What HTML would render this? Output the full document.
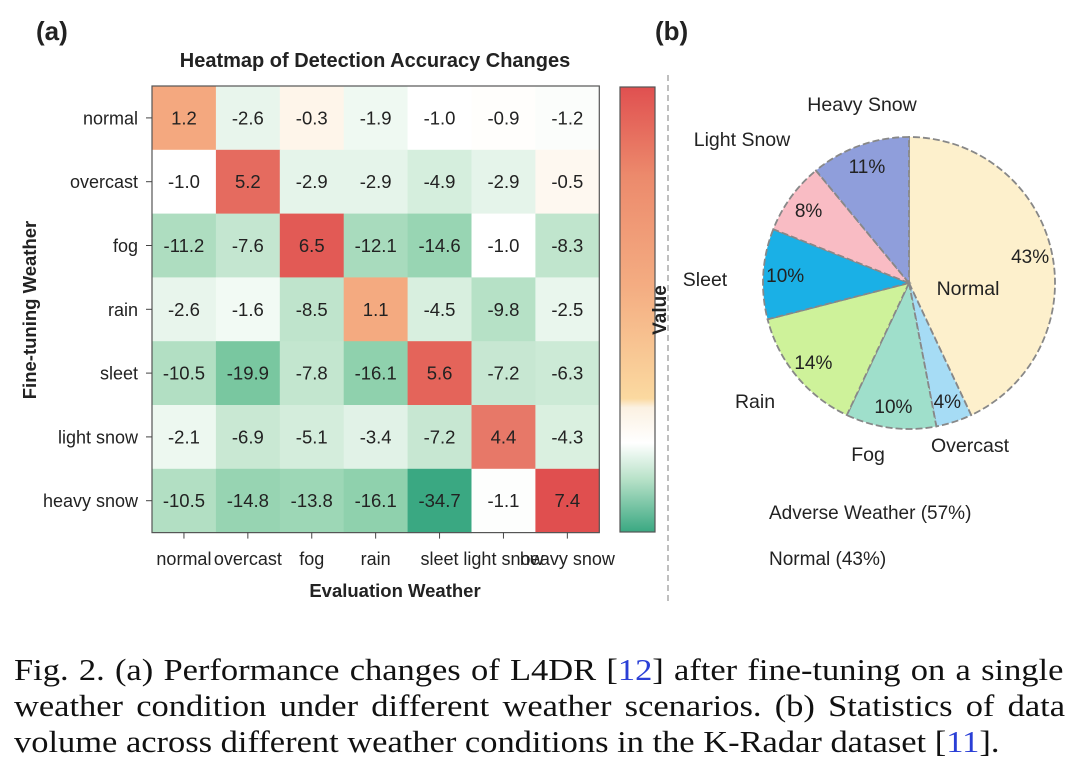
<!DOCTYPE html>
<html><head><meta charset="utf-8">
<style>
html,body{margin:0;padding:0;background:#fff;}
svg{display:block;}
.s{font-family:"Liberation Sans",Arial,sans-serif;fill:#222;}
.serif{font-family:"Liberation Serif","Times New Roman",serif;fill:#111;}
</style></head>
<body>
<svg id="fig" width="1080" height="776" viewBox="0 0 1080 776" xmlns="http://www.w3.org/2000/svg">
  <text class="s" x="36" y="40" font-size="26" font-weight="bold" fill="#111">(a)</text>
  <text class="s" x="655" y="40" font-size="26" font-weight="bold" fill="#111">(b)</text>
  <text class="s" x="375" y="67" font-size="20" font-weight="bold" text-anchor="middle">Heatmap of Detection Accuracy Changes</text>
  <g id="heat"></g>
  <defs>
    <linearGradient id="cbg" x1="0" y1="1" x2="0" y2="0">
      <stop offset="0" stop-color="#3aa882"/>
      <stop offset="0.12" stop-color="#b9e2c9"/>
      <stop offset="0.2" stop-color="#ffffff"/>
      <stop offset="0.28" stop-color="#fbf1e2"/>
      <stop offset="0.3" stop-color="#fbd9a0"/>
      <stop offset="0.55" stop-color="#f4ad82"/>
      <stop offset="0.8" stop-color="#ec8a6c"/>
      <stop offset="1" stop-color="#e05050"/>
    </linearGradient>
  </defs>
  <rect x="620" y="87" width="35" height="445" fill="url(#cbg)" stroke="#555" stroke-width="1.2"/>
  <text class="s" transform="translate(666,310) rotate(-90)" font-size="19" font-weight="bold" text-anchor="middle">Value</text>
  <text class="s" transform="translate(36,310) rotate(-90)" font-size="18.5" font-weight="bold" text-anchor="middle">Fine-tuning Weather</text>
  <text class="s" x="395" y="597" font-size="18.5" font-weight="bold" text-anchor="middle">Evaluation Weather</text>
  <line x1="668" y1="75" x2="668" y2="602" stroke="#aaa" stroke-width="1.5" stroke-dasharray="6,4"/>
  <g id="pie"></g>
  <text class="s" x="769" y="519" font-size="19">Adverse Weather (57%)</text>
  <text class="s" x="769" y="565" font-size="19">Normal (43%)</text>
  <g id="cap">
    <text id="cap1" class="serif jus" x="0" y="680" font-size="31">Fig. 2.  (a) Performance changes of L4DR [<tspan fill="#2a3fd6">12</tspan>] after fine-tuning on a single</text>
    <text class="serif jus" x="0" y="716" font-size="31">weather condition under different weather scenarios. (b) Statistics of data</text>
    <text id="cap3" class="serif" x="0" y="752" font-size="31">volume across different weather conditions in the K-Radar dataset [<tspan fill="#2a3fd6">11</tspan>].</text>
  </g>
</svg>
<script>
const rowLabels = ["normal","overcast","fog","rain","sleet","light snow","heavy snow"];
const colLabels = ["normal","overcast","fog","rain","sleet","light snow","heavy snow"];
const heatValues = [
  [1.2,-2.6,-0.3,-1.9,-1.0,-0.9,-1.2],
  [-1.0,5.2,-2.9,-2.9,-4.9,-2.9,-0.5],
  [-11.2,-7.6,6.5,-12.1,-14.6,-1.0,-8.3],
  [-2.6,-1.6,-8.5,1.1,-4.5,-9.8,-2.5],
  [-10.5,-19.9,-7.8,-16.1,5.6,-7.2,-6.3],
  [-2.1,-6.9,-5.1,-3.4,-7.2,4.4,-4.3],
  [-10.5,-14.8,-13.8,-16.1,-34.7,-1.1,7.4]
];
const pieLabels = ["Normal","Overcast","Fog","Rain","Sleet","Light Snow","Heavy Snow"];
const pieValues = [43,4,10,14,10,8,11];
const pieColors = ["#fdf0cc","#a6dcf5","#9fdfcb","#cef29a","#1ab0e6","#f9bcc4","#8f9edb"];

const NS="http://www.w3.org/2000/svg";
function mk(tag,attrs,parent){const e=document.createElementNS(NS,tag);for(const k in attrs)e.setAttribute(k,attrs[k]);parent.appendChild(e);return e;}

const cStops=[[-34.7,[58,168,130]],[-19.9,[121,199,160]],[-16.1,[143,209,173]],[-14.6,[152,213,179]],[-10.5,[178,223,195]],[-7,[200,232,211]],[-4.5,[216,239,223]],[-2.6,[232,245,236]],[-1.6,[242,250,244]],[-1.0,[255,255,255]],[-0.3,[254,245,234]],[1.1,[244,170,128]],[4.4,[231,120,104]],[5.6,[228,100,90]],[7.4,[224,79,79]]];
function color(v){
  if(v<=cStops[0][0])return "rgb("+cStops[0][1]+")";
  for(let i=1;i<cStops.length;i++){if(v<=cStops[i][0]){const a=cStops[i-1],b=cStops[i];const t=(v-a[0])/(b[0]-a[0]);return "rgb("+a[1].map((c,j)=>Math.round(c+(b[1][j]-c)*t)).join(",")+")";}}
  return "rgb("+cStops[cStops.length-1][1]+")";
}
const hx0=152,hy0=86,cw=63.9,ch=63.8;
const xPos=j=>hx0+j*cw, yPos=i=>hy0+i*ch;
const heat=document.getElementById('heat');
heatValues.forEach((row,i)=>row.forEach((v,j)=>{
  const r=mk('rect',{x:xPos(j),y:yPos(i),width:cw+0.5,height:ch+0.5,fill:color(v)},heat);
  
  
  const t=mk('text',{x:xPos(j)+cw/2,y:yPos(i)+ch/2+6.5,'font-size':18.5,'text-anchor':'middle',class:'s'},heat);
  t.textContent=v.toFixed(1);
  
  
}));
const fr=mk('rect',{x:hx0,y:hy0,width:cw*7,height:ch*7,fill:'none',stroke:'#555','stroke-width':1.2},heat);


rowLabels.forEach((l,i)=>{
  const y=yPos(i)+ch/2;
  mk('line',{x1:hx0-6,y1:y,x2:hx0,y2:y,stroke:'#444'},heat);
  const t=mk('text',{x:hx0-14,y:y+6.5,'font-size':18,'text-anchor':'end',class:'s'},heat);
  t.textContent=l;
  
  
});
colLabels.forEach((l,j)=>{
  const x=xPos(j)+cw/2;
  mk('line',{x1:x,y1:hy0+ch*7,x2:x,y2:hy0+ch*7+6,stroke:'#444'},heat);
  const t=mk('text',{x:x,y:565,'font-size':18,'text-anchor':'middle',class:'s'},heat);
  t.textContent=l;
  
  
});

const pie=document.getElementById('pie');
const cx=909,cy=283,R=146;
const total=pieValues.reduce((a,b)=>a+b,0);
const pt=(f,r)=>[cx+r*Math.sin(f*2*Math.PI),cy-r*Math.cos(f*2*Math.PI)];
let acc=0;
pieValues.forEach((v,i)=>{
  const f0=acc/total,f1=(acc+v)/total;acc+=v;
  const [x0,y0]=pt(f0,R),[x1,y1]=pt(f1,R);
  const large=(f1-f0)>0.5?1:0;
  const p=mk('path',{d:`M${cx},${cy} L${x0},${y0} A${R},${R} 0 ${large} 1 ${x1},${y1} Z`,fill:pieColors[i],stroke:'#888','stroke-width':1.8,'stroke-dasharray':'7,3'},pie);
  
  
  const fm=(f0+f1)/2;
  const [px,py]=pt(fm,R*0.85);
  const t=mk('text',{x:px,y:py+7,'font-size':19,'text-anchor':'middle',class:'s'},pie);
  t.textContent=Math.round(v/total*100)+'%';
  
  
});
const lab=[[968,295,'middle'],[970,452,'middle'],[868,461,'middle'],[755,408,'middle'],[705,286,'middle'],[742,146,'middle'],[862,111,'middle']];
pieLabels.forEach((l,i)=>{
  const t=mk('text',{x:lab[i][0],y:lab[i][1],'font-size':19.5,'text-anchor':lab[i][2],class:'s'},pie);
  t.textContent=l;
  
  
});

// caption: stretch so line 1 nearly fits, then justify lines 1-2
const cap=document.getElementById('cap');
const w1=document.getElementById('cap1').getComputedTextLength();
const sc=1030/w1;
cap.setAttribute('transform','translate(14,0) scale('+sc.toFixed(4)+',1)');
const target=1051/sc;
document.querySelectorAll('.jus').forEach(t=>{
  const w=t.getComputedTextLength();
  const gaps=(t.textContent.match(/ /g)||[]).length;
  if(gaps>0&&w<target) t.setAttribute('word-spacing',((target-w)/gaps).toFixed(2));
});
</script>
</body></html>
